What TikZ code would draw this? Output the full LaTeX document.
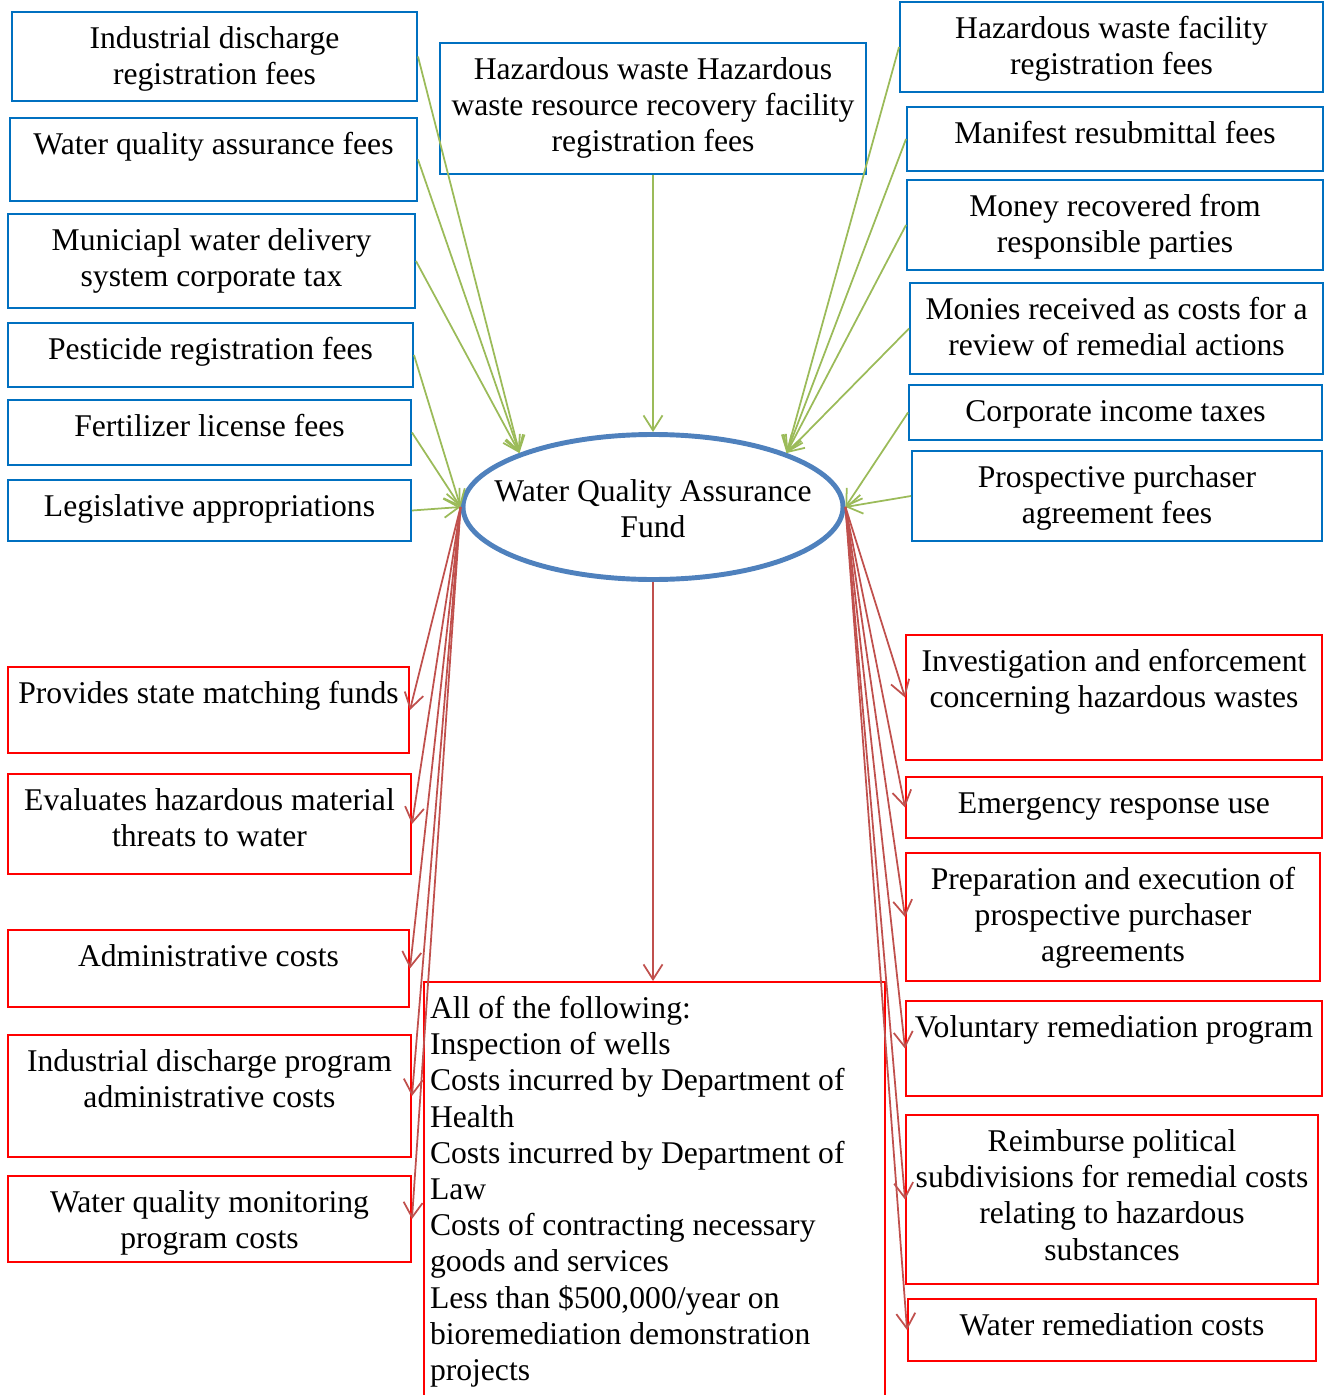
\documentclass[tikz,border=0pt]{standalone}
\usepackage{fontspec}
\setmainfont{Liberation Serif}
\usetikzlibrary{shapes.geometric,arrows.meta}
\definecolor{boxblue}{HTML}{0070C0}
\definecolor{fundblue}{HTML}{4F81BD}
\definecolor{ingreen}{HTML}{9BBB59}
\definecolor{outred}{HTML}{C0504D}
\newlength{\pxu}
\setlength{\pxu}{0.02cm}
% top-aligned text in a box of fixed size (width, height in px)
\newcommand{\boxtext}[3]{\parbox[c][#2\pxu][t]{#1\pxu}{\centering\rule{0pt}{36.5\pxu}#3}}

\begin{document}
\begin{tikzpicture}[x=0.02cm, y=-0.02cm,
  font=\fontsize{18}{20.6}\selectfont,
  src/.style={draw=boxblue, line width=1.1pt, inner sep=0pt},
  use/.style={draw=red, line width=1.1pt, inner sep=0pt},
  fund/.style={ellipse, draw=fundblue, line width=2.8pt, minimum width=380\pxu, minimum height=145\pxu, inner sep=0pt},
  inarr/.style={-{Straight Barb[length=3mm,width=3.8mm]}, ingreen, line width=1pt},
  outarr/.style={-{Straight Barb[length=3mm,width=3.8mm]}, outred, line width=1pt}
]
\useasboundingbox (0,0) rectangle (1325,1395);

% the fund
\node[fund, label={[align=center, yshift=-2\pxu]center:Water Quality Assurance\\Fund}] (fund) at (653,507) {};

% sources
\node[src] (l1) at (214.5,56.5) {\boxtext{405}{89}{Industrial discharge\\registration fees}};
\node[src] (l2) at (213.5,159.5) {\boxtext{407}{83}{Water quality assurance fees}};
\node[src] (l3) at (211.5,261) {\boxtext{407}{94}{Municiapl water delivery\\system corporate tax}};
\node[src] (l4) at (210.5,355) {\boxtext{405}{64}{Pesticide registration fees}};
\node[src] (l5) at (209.5,432.5) {\boxtext{403}{65}{Fertilizer license fees}};
\node[src] (l6) at (209.5,510.5) {\boxtext{403}{61}{Legislative appropriations}};
\node[src] (t1) at (653,108.5) {\boxtext{426}{131}{Hazardous waste Hazardous\\waste resource recovery facility\\registration fees}};
\node[src] (r1) at (1111.5,47) {\boxtext{423}{90}{Hazardous waste facility\\registration fees}};
\node[src] (r2) at (1115,139) {\boxtext{416}{64}{Manifest resubmittal fees}};
\node[src] (r3) at (1115,225) {\boxtext{416}{90}{Money recovered from\\responsible parties}};
\node[src] (r4) at (1116.5,328.5) {\boxtext{413}{91}{Monies received as costs for a\\review of remedial actions}};
\node[src] (r5) at (1115.5,412.5) {\boxtext{413}{55}{Corporate income taxes}};
\node[src] (r6) at (1117,496) {\boxtext{410}{90}{Prospective purchaser\\agreement fees}};

% uses
\node[use] (d1) at (208.5,710) {\boxtext{401}{86}{Provides state matching funds}};
\node[use] (d2) at (209.5,824) {\boxtext{403}{100}{Evaluates hazardous material\\threats to water}};
\node[use] (d3) at (208.5,968.5) {\boxtext{401}{77}{Administrative costs}};
\node[use] (d4) at (209.5,1096) {\boxtext{403}{122}{Industrial discharge program\\administrative costs}};
\node[use] (d5) at (209.5,1219) {\boxtext{403}{86}{Water quality monitoring\\program costs}};
\node[use, inner xsep=0.12cm] (b1) at (654.5,1196) {\parbox[c][428\pxu][t]{449\pxu}{\raggedright\rule{0pt}{36.5\pxu}All of the following:\\
  Inspection of wells\\
  Costs incurred by Department of\\
  Health\\
  Costs incurred by Department of\\
  Law\\
  Costs of contracting necessary\\
  goods and services\\
  Less than \$500,000/year on\\
  bioremediation demonstration\\
  projects}};
\node[use] (e1) at (1114,697.5) {\boxtext{416}{125}{Investigation and enforcement\\concerning hazardous wastes}};
\node[use] (e2) at (1114,807.5) {\boxtext{416}{61}{Emergency response use}};
\node[use] (e3) at (1113,917) {\boxtext{414}{128}{Preparation and execution of\\prospective purchaser\\agreements}};
\node[use] (e4) at (1114,1048.5) {\boxtext{416}{95}{Voluntary remediation program}};
\node[use] (e5) at (1112,1199.5) {\boxtext{412}{169}{Reimburse political\\subdivisions for remedial costs\\relating to hazardous\\substances}};
\node[use] (e6) at (1112,1330) {\boxtext{408}{62}{Water remediation costs}};

% money in
\foreach \s in {l1,l2,l3} {\draw[inarr] (\s.east) -- (fund.158);}
\foreach \s in {l4,l5,l6} {\draw[inarr] (\s.east) -- (fund.west);}
\draw[inarr] (t1.south) -- (fund.north);
\foreach \s in {r1,r2,r3,r4} {\draw[inarr] (\s.west) -- (fund.22);}
\foreach \s in {r5,r6} {\draw[inarr] (\s.west) -- (fund.east);}

% money out
\foreach \u in {d1,d2,d3,d4,d5} {\draw[outarr] (fund.west) -- (\u.east);}
\draw[outarr] (fund.south) -- (fund.south |- b1.north);
\foreach \u in {e1,e2,e3,e4,e5,e6} {\draw[outarr] (fund.east) -- (\u.west);}
\end{tikzpicture}
\end{document}
